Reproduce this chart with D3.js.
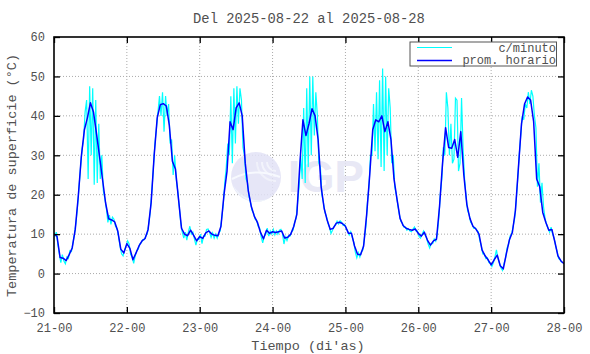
<!DOCTYPE html>
<html>
<head>
<meta charset="utf-8">
<script src="https://cdn.jsdelivr.net/npm/d3@7"></script>
<style>
  body { margin: 0; background: #fff; }
  text { font-family: "Liberation Mono", "DejaVu Sans Mono", monospace; fill: #505050; }
</style>
</head>
<body>
<div id="main"></div>
<script>
const ctx = {
    width: 590,
    height: 354,
    margin: {top: 37, right: 26, bottom: 41, left: 54}
};
ctx.w = ctx.width - ctx.margin.left - ctx.margin.right;
ctx.h = ctx.height - ctx.margin.top - ctx.margin.bottom;

const title = "Del 2025-08-22 al 2025-08-28";
const dayLabels = ["21-00", "22-00", "23-00", "24-00", "25-00", "26-00", "27-00", "28-00"];
const yTicks = [-10, 0, 10, 20, 30, 40, 50, 60];

// hourly mean (prom. horario), hours 0..168 from 21-00
const hourlyAvg = [
    10.1, 9.4, 4.1, 3.9, 3.3, 4.8, 6.5, 11.2, 19.6, 29.7, 36.4, 39.5, 43.3, 41, 35.5, 29.7, 23.8, 17.9, 13.9, 13.6, 13.1, 10.8, 6.2, 5.2,
    7.6, 6.4, 3.5, 5.2, 7.0, 8.3, 8.9, 11.2, 18, 30, 39.5, 42.8, 43.1, 42.5, 37.5, 28.5, 26.5, 19, 11.5, 10, 9.6, 11, 9.7, 8.3,
    9.4, 8.9, 10.3, 10.8, 10, 9.7, 9.6, 12, 20, 26, 38.5, 36.5, 42, 43.3, 40, 28, 21, 17, 14.5, 13, 10.5, 8.8, 11, 10.2,
    10.6, 10.4, 10.6, 10.8, 9, 9.2, 10, 12, 15, 28, 39, 35, 38, 41.8, 40, 34, 22, 16.5, 13.5, 11.2, 11.5, 12.8, 13, 12.7,
    12, 10.2, 10.2, 7, 4.9, 4.8, 7, 15, 25, 36.5, 39, 38.5, 40, 36, 38.5, 34, 24, 18.8, 14, 12.2, 11.5, 11.2, 11, 11.3,
    10.2, 9.5, 10.5, 8.5, 7.2, 8.3, 8.7, 17, 28, 37, 32, 31.8, 34, 29.5, 36, 25, 17.5, 14, 12, 11.3, 10, 6, 4.5, 3.5,
    2.2, 3.5, 4.7, 2, 1.2, 5, 8.5, 10.5, 16, 27, 38, 43, 44.8, 44, 38.5, 24, 22, 15.5, 13, 11, 11.2, 8, 4.5, 3.2,
    2.5
];

// per-minute readings (c/minuto), sampled a quarter hour before / after each hour
const minuteEarly = [
    10.5, 10.5, 5.0, 4.8, 2.5, 3.8, 5.6, 10, 17, 27, 34, 44, 47.5, 47, 44, 38, 30, 19, 13, 12.5, 13.8, 11.5, 7, 4.5,
    7, 7.5, 4.2, 4.5, 6.2, 7.8, 8.6, 10.2, 16, 27, 37, 45, 46, 45, 43, 34, 30, 21, 13, 9, 8.5, 12, 10.5, 7.2,
    8.6, 7.6, 9.5, 11.3, 9.2, 9, 9, 10.8, 17.5, 27, 30, 28, 33, 38, 44, 30, 23, 18, 15.3, 13.5, 11.5, 7.8, 10, 9.5,
    10, 9.8, 10, 11.2, 7.5, 8.4, 9.5, 11, 14, 22, 24, 23, 27, 30, 35, 40, 27, 18, 14.5, 11.8, 11, 12.3, 12.6, 13,
    12.4, 10.8, 10.6, 8, 4, 4.2, 6, 12, 22, 30, 31, 29, 27, 26, 30, 42, 30, 20, 15, 12.8, 11.8, 11.4, 10.6, 11.8,
    10.8, 9, 10.8, 9, 6.5, 7.6, 8.2, 14, 24, 30, 42, 38, 29, 44, 28, 32, 19.5, 15, 12.5, 11.6, 10.6, 7, 5, 4,
    2.6, 2.8, 6, 2.6, 0.8, 4, 7.5, 10, 14, 24, 35, 39, 42, 43, 45, 37, 28, 23, 14, 11.5, 11.8, 9, 5.5, 3.5
];
const minuteLate = [
    9.5, 7.5, 2.8, 3.2, 4.2, 5.8, 7.8, 13, 22, 31.5, 41, 24, 30, 22.5, 23, 24, 21, 16.5, 14.8, 14.3, 12, 9.5, 5, 6,
    8.3, 4.8, 2.6, 5.8, 7.5, 8.6, 9.5, 12.8, 21, 33, 41, 40, 36, 40, 33, 25, 24, 17, 10.5, 10.5, 10.5, 10, 8.8, 8.8,
    10, 9.5, 11.2, 10.4, 10.3, 10, 10.3, 14, 23, 33, 45, 47, 47.5, 47, 32, 24, 19.5, 16, 13.8, 12, 9.3, 9.4, 11.5, 10.8,
    11.2, 10.8, 11, 10.2, 9.3, 9.6, 10.6, 13, 18, 30, 42, 47, 50, 50, 46, 28, 20, 15.5, 12.8, 10.2, 12, 13.3, 13.4, 12.2,
    11.4, 9.8, 9.2, 5.5, 5.3, 5.5, 9, 18, 30, 43, 46, 49, 52, 50, 47, 28, 22, 17.5, 13.3, 11.8, 11, 10.8, 11.3, 10.8,
    9.4, 10, 9.8, 7.5, 7.6, 8.8, 10, 20, 32, 46, 30, 28, 44.5, 26, 44.5, 24, 16, 13, 11.5, 11, 8.5, 5, 3.8, 2.8,
    1.8, 4.2, 3.8, 1.4, 2.5, 6.5, 9.5, 12, 18.5, 30, 40, 43, 46, 46.5, 40, 22, 18, 17, 12.5, 10.5, 10, 7, 3.8, 2.8
];

const legendItems = [
    {label: "c/minuto", color: "#00ffff", width: 1},
    {label: "prom. horario", color: "#0000ff", width: 1.5}
];

function createViz() {
    const svg = d3.select("#main").append("svg")
        .attr("width", ctx.width)
        .attr("height", ctx.height);

    const x = d3.scaleLinear().domain([0, 168]).range([0, ctx.w]);
    const y = d3.scaleLinear().domain([-10, 60]).range([ctx.h, 0]);

    const g = svg.append("g")
        .attr("transform", `translate(${ctx.margin.left},${ctx.margin.top})`);

    g.append("clipPath").attr("id", "clip")
        .append("rect").attr("width", ctx.w).attr("height", ctx.h);

    // grid
    const dayTicks = dayLabels.map((d, i) => i * 24);
    g.append("g").selectAll("line")
        .data(dayTicks.slice(1, -1))
        .enter().append("line")
        .attr("x1", d => x(d)).attr("x2", d => x(d))
        .attr("y1", 0).attr("y2", ctx.h)
        .attr("stroke", "#aaa").attr("stroke-dasharray", "1,2");
    g.append("g").selectAll("line")
        .data(yTicks.slice(1, -1))
        .enter().append("line")
        .attr("x1", 0).attr("x2", ctx.w)
        .attr("y1", d => y(d)).attr("y2", d => y(d))
        .attr("stroke", "#aaa").attr("stroke-dasharray", "1,2");

    // watermark
    const wm = g.append("g").attr("opacity", 0.85);
    wm.append("circle")
        .attr("cx", 202).attr("cy", 140).attr("r", 25)
        .attr("fill", "#e2e2f6");
    wm.append("path")
        .attr("d", "M179,148 A25,25 0 0,0 214,162 A30,30 0 0,1 179,148 Z")
        .attr("fill", "#eef4fc");
    [[14, 0.8], [9, 0.7], [19, 0.6]].forEach(([r, o]) => {
        wm.append("path")
            .attr("d", `M${222 - r},${125} A${r},${r} 0 0,0 ${222},${125 + r}`)
            .attr("fill", "none").attr("stroke", "#f6f8fe")
            .attr("stroke-width", 2).attr("opacity", o);
    });
    wm.append("path")
        .attr("d", "M178,142 Q200,130 226,140")
        .attr("fill", "none").attr("stroke", "#f6f8fe").attr("stroke-width", 2);
    wm.append("text")
        .attr("x", 234).attr("y", 155)
        .style("font-family", "'Liberation Sans', Arial, sans-serif")
        .style("font-weight", "bold")
        .style("font-size", "44px")
        .style("fill", "#e4e4f4")
        .text("IGP");

    // series
    const minutePts = [];
    minuteEarly.forEach((v, h) => {
        minutePts.push([h - 0.25, v]);
        minutePts.push([h + 0.25, minuteLate[h]]);
    });
    const line = d3.line().x(d => x(d[0])).y(d => y(d[1]));
    const plot = g.append("g").attr("clip-path", "url(#clip)");
    plot.append("path")
        .datum(minutePts)
        .attr("d", line)
        .attr("fill", "none")
        .attr("stroke", "#00ffff")
        .attr("stroke-width", 1.2);
    plot.append("path")
        .datum(hourlyAvg.map((v, h) => [h, v]))
        .attr("d", line)
        .attr("fill", "none")
        .attr("stroke", "#0000ff")
        .attr("stroke-width", 1.5)
        .attr("stroke-linejoin", "round");

    // axes
    const fmtDay = d => dayLabels[d / 24];
    const xAxis = g.append("g")
        .attr("transform", `translate(0,${ctx.h})`)
        .call(d3.axisBottom(x).tickValues(dayTicks).tickFormat(fmtDay).tickSize(-6).tickPadding(10));
    const yAxis = g.append("g")
        .call(d3.axisLeft(y).tickValues(yTicks).tickSize(-6).tickPadding(9));
    const xTop = g.append("g")
        .call(d3.axisTop(x).tickValues(dayTicks).tickFormat("").tickSize(-6));
    const yRight = g.append("g")
        .attr("transform", `translate(${ctx.w},0)`)
        .call(d3.axisRight(y).tickValues(yTicks).tickFormat("").tickSize(-6));
    [xAxis, yAxis, xTop, yRight].forEach(a => {
        a.select(".domain").remove();
        a.selectAll(".tick line").attr("stroke", "#000").attr("stroke-width", 1.3);
        a.selectAll("text").style("font-size", "12px").style("fill", "#505050")
            .style("font-family", "'Liberation Mono', monospace");
    });

    g.append("rect")
        .attr("width", ctx.w).attr("height", ctx.h)
        .attr("fill", "none").attr("stroke", "#000").attr("stroke-width", 1.6);

    // legend
    const leg = g.append("g").attr("transform", `translate(${356},${5})`);
    leg.append("rect")
        .attr("width", 146.5).attr("height", 24)
        .attr("fill", "#fff").attr("stroke", "#555").attr("stroke-width", 1);
    legendItems.forEach((d, i) => {
        leg.append("line")
            .attr("x1", 7).attr("x2", 42)
            .attr("y1", 5.5 + i * 13).attr("y2", 5.5 + i * 13)
            .attr("stroke", d.color).attr("stroke-width", d.width);
        leg.append("text")
            .attr("x", 146).attr("y", 9.5 + i * 12.5)
            .attr("text-anchor", "end")
            .style("font-size", "12px")
            .text(d.label);
    });

    // titles
    svg.append("text")
        .attr("x", 309).attr("y", 23)
        .attr("text-anchor", "middle")
        .style("font-size", "13.8px")
        .text(title);
    svg.append("text")
        .attr("x", 308).attr("y", 350)
        .attr("text-anchor", "middle")
        .style("font-size", "13.5px")
        .text("Tiempo (di'as)");
    svg.append("text")
        .attr("transform", "translate(16,175.5) rotate(-90)")
        .attr("text-anchor", "middle")
        .style("font-size", "13.5px")
        .text("Temperatura de superficie (°C)");
}

createViz();
</script>
</body>
</html>
